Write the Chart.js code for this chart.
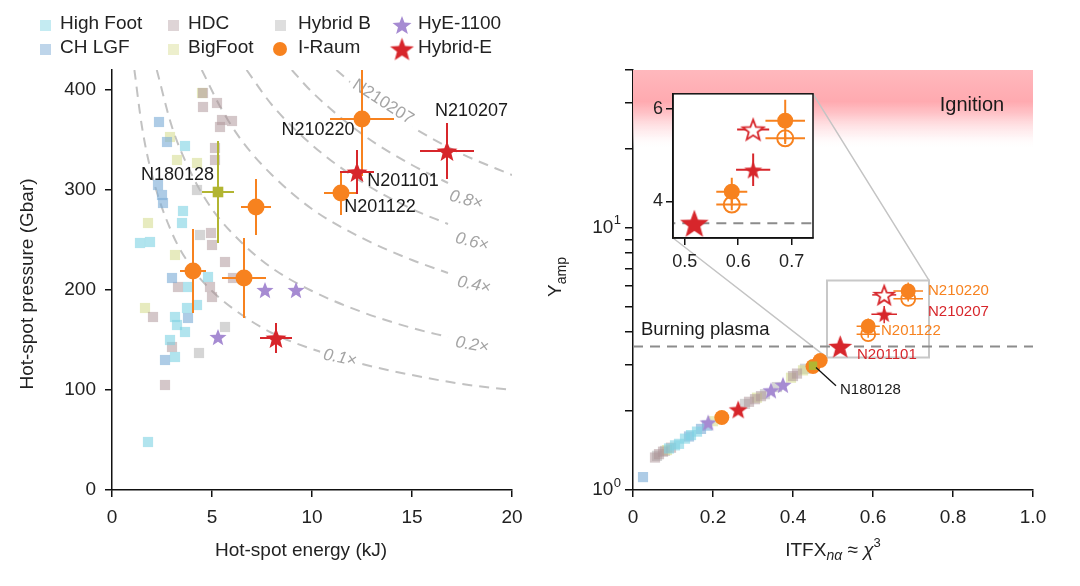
<!DOCTYPE html>
<html>
<head>
<meta charset="utf-8">
<script src="https://cdn.jsdelivr.net/npm/chart.js@4.4.1/dist/chart.umd.min.js"></script>
<style>
  body { margin: 0; background: #fff; font-family: "Liberation Sans", Arial, Helvetica, sans-serif; }
  #wrap { position: relative; width: 1080px; height: 586px; overflow: hidden; }
  #wrap > canvas { position: absolute; }
  .item { position: absolute; font-size: 19px; color: #222; line-height: 22px; white-space: nowrap; }
  .item canvas { position: absolute; }
</style>
</head>
<body>
<div id="wrap">
  <canvas id="left" width="540" height="586" style="left:0;top:0"></canvas>
  <canvas id="right" width="540" height="586" style="left:540px;top:0"></canvas>
  <canvas id="inset" width="200" height="200" style="left:630px;top:80px"></canvas>
  <div id="legend"></div>
</div>
<script>
const FONT = '"Liberation Sans", Arial, Helvetica, sans-serif';

// ---------- left panel: hot-spot energy (kJ) vs pressure (Gbar)
const HIGHFOOT_E = [3.65, 3.5, 3.55, 1.4, 1.9, 3.8, 4.8, 4.25, 3.75, 3.15, 3.25, 3.65, 2.9, 3.15, 1.8];
const HIGHFOOT_P = [344, 267, 279, 247, 248, 203, 213, 185, 182, 173, 165, 158, 150, 133, 48];
const CHLGF_E = [2.35, 2.75, 2.3, 2.5, 2.55, 3.0, 3.8, 2.65];
const CHLGF_P = [368, 348, 305, 295, 287, 212, 172, 130];
const HDC_E = [4.55, 4.55, 5.25, 5.5, 6.0, 5.4, 5.15, 5.15, 4.95, 5.0, 3.3, 4.9, 5.0, 5.65, 6.05, 2.05, 2.65, 3.0];
const HDC_P = [397, 383, 387, 370, 369, 363, 342, 330, 257, 245, 203, 203, 193, 228, 212, 173, 105, 143];
const BIGFOOT_E = [4.5, 2.9, 3.25, 4.25, 1.8, 1.65, 3.15];
const BIGFOOT_P = [397, 353, 330, 327, 267, 182, 235];
const HYBRIDB_E = [4.25, 4.4, 5.65, 4.35];
const HYBRIDB_P = [300, 255, 163, 137];
const HYE_E = [7.65, 9.2, 5.3];
const HYE_P = [200, 200, 153];
const IRAUM_E = [4.05, 6.6, 7.2, 12.5, 11.45];
const IRAUM_P = [219, 212, 283, 371, 297];
const IRAUM_E_ERR = [0.65, 1.1, 0.75, 1.6, 0.85];
const IRAUM_P_ERR = [42, 40, 28, 57, 22];
const HYBRIDE_E = [8.2, 12.25, 16.75];
const HYBRIDE_P = [152, 318, 339];
const HYBRIDE_E_ERR = [0.8, 0.85, 1.35];
const HYBRIDE_P_ERR = [15, 22, 28];
const N180128_E = [5.3];
const N180128_P = [298];
const N180128_E_ERR = [0.8];
const N180128_P_ERR = [51];

// dashed contours (fraction of the burning criterion)
const CURVE_NAMES = ['0.1×', '0.2×', '0.4×', '0.6×', '0.8×', 'N210207'];
const CURVE_E = [
  [1.12, 1.5, 2, 3, 4, 5, 6.5, 8, 10, 12.5, 15, 17.5, 20],
  [2.24, 3, 4, 5, 6.5, 8, 10, 12.5, 15, 16.8],
  [4.49, 5.5, 6.5, 8, 10, 12.5, 15, 16.8],
  [6.73, 8, 10, 12.5, 15, 16.8],
  [8.99, 10, 12.5, 15, 16.8],
  [11.22, 12.5, 14, 15, 17.5, 20]
];
const CURVE_P = [
  [420, 363, 315, 257, 222, 199, 175, 157, 141, 126, 115, 106, 100],
  [420, 363, 315, 281, 247, 222, 199, 178, 162, 153],
  [420, 380, 349, 315, 281, 252, 230, 217],
  [420, 385, 345, 308, 281, 266],
  [420, 398, 356, 325, 307],
  [420, 398, 376, 363, 336, 315]
];
const CURVE_LABEL_E = [11.4, 18.0, 18.1, 18.0, 17.7, 13.55];
const CURVE_LABEL_P = [132, 145, 205, 248, 290, 388];

// ---------- right panel: ITFX vs Y_amp
const R_HIGHFOOT_X = [0.09, 0.105, 0.13, 0.145, 0.16, 0.115];
const R_HIGHFOOT_Y = [1.44, 1.48, 1.57, 1.62, 1.67, 1.5];
const R_CHLGF_X = [0.025, 0.14, 0.17, 0.185];
const R_CHLGF_Y = [1.12, 1.6, 1.71, 1.76];
const R_HDC_X = [0.055, 0.065, 0.075, 0.095, 0.29, 0.305, 0.32, 0.4, 0.41];
const R_HDC_Y = [1.33, 1.37, 1.4, 1.45, 2.17, 2.22, 2.28, 2.72, 2.78];
const R_BIGFOOT_X = [0.085, 0.2, 0.31, 0.395, 0.425];
const R_BIGFOOT_Y = [1.42, 1.83, 2.25, 2.68, 2.86];
const R_HYBRIDB_X = [0.06, 0.08, 0.28, 0.33, 0.36, 0.43];
const R_HYBRIDB_Y = [1.35, 1.41, 2.13, 2.32, 2.47, 2.9];
const R_HYE_X = [0.188, 0.345, 0.375];
const R_HYE_Y = [1.81, 2.4, 2.52];
const R_IRAUM_X = [0.222, 0.45, 0.468, 0.588, 0.688];
const R_IRAUM_Y = [1.89, 2.96, 3.12, 4.21, 5.74];
const R_IRAUM_X_ERR = [0, 0, 0, 0.029, 0.037];
const R_IRAUM_Y_ERR = [0, 0, 0, 0.3, 0.45];
const R_IRAUM_ALT_X = [0.588, 0.688];
const R_IRAUM_ALT_Y = [3.93, 5.36];
const R_IRAUM_ALT_X_ERR = [0.029, 0.037];
const R_IRAUM_ALT_Y_ERR = [0.12, 0.12];
const R_HYBRIDE_X = [0.263, 0.518, 0.628];
const R_HYBRIDE_Y = [2.03, 3.53, 4.68];
const R_HYBRIDE_X_ERR = [0, 0, 0.032];
const R_HYBRIDE_Y_ERR = [0, 0, 0.35];
const R_HYBRIDE_ALT_X = [0.628];
const R_HYBRIDE_ALT_Y = [5.55];
const R_HYBRIDE_ALT_X_ERR = [0.03];
const R_N180128_X = [0.45];
const R_N180128_Y = [2.98];

const BURNING = 3.53;
const IGNITION = [20, 40];
const ZOOM_X = [0.485, 0.74];
const ZOOM_Y = [3.2, 6.3];
const LEFT_X_TICKS = [0, 5, 10, 15, 20];
const LEFT_Y_TICKS = [0, 100, 200, 300, 400];
const RIGHT_X_TICKS = [0, 0.2, 0.4, 0.6, 0.8, 1.0];
const RIGHT_Y_TICKS = [1, 2, 3, 4, 5, 6, 7, 8, 9, 10, 20, 30, 40];
const INSET_X_TICKS = [0.5, 0.6, 0.7];
const INSET_Y_TICKS = [4, 6];

const COL = {
  highFoot: 'rgba(125,210,226,0.6)',
  chlgf: 'rgba(125,172,214,0.62)',
  hdc: 'rgba(172,148,152,0.52)',
  bigfoot: 'rgba(214,220,145,0.58)',
  hybridB: 'rgba(182,182,182,0.58)',
  hye: '#a68bd2',
  iraum: '#f7821f',
  hybridE: '#d7262b',
  olive: '#b2b532'
};

const pts = (xs, ys) => xs.map((x, i) => ({ x, y: ys[i] }));

const starCache = {};
function star(r, fill, stroke) {
  const key = r + '|' + fill + '|' + stroke;
  if (starCache[key]) return starCache[key];
  const s = Math.ceil(2 * r + 4);
  const c = document.createElement('canvas');
  c.width = s; c.height = s;
  const g = c.getContext('2d');
  g.beginPath();
  for (let i = 0; i < 10; i++) {
    const rr = i % 2 ? r * 0.42 : r;
    const a = -Math.PI / 2 + i * Math.PI / 5;
    g.lineTo(s / 2 + rr * Math.cos(a), s / 2 + 0.1 * r + rr * Math.sin(a));
  }
  g.closePath();
  if (fill) { g.fillStyle = fill; g.fill(); }
  if (stroke) { g.strokeStyle = stroke; g.lineWidth = 1.8; g.stroke(); }
  starCache[key] = c;
  return c;
}

function squares(xs, ys, color) {
  return { data: pts(xs, ys), pointStyle: 'rect', pointRadius: 7.2, backgroundColor: color, borderWidth: 0, order: 5 };
}

// error bars drawn just before their dataset's markers
const errorBars = {
  id: 'errorBars',
  beforeDatasetDraw(chart, args) {
    const ds = chart.data.datasets[args.index];
    if (!ds.errX && !ds.errY) return;
    const { ctx, scales: { x, y }, chartArea: a } = chart;
    ctx.save();
    ctx.beginPath();
    ctx.rect(a.left, a.top, a.right - a.left, a.bottom - a.top);
    ctx.clip();
    ctx.strokeStyle = ds.errColor;
    ctx.lineWidth = ds.errWidth || 2;
    ds.data.forEach((p, i) => {
      const ex = ds.errX ? ds.errX[i] : 0;
      const ey = ds.errY ? ds.errY[i] : 0;
      ctx.beginPath();
      if (ex) {
        ctx.moveTo(x.getPixelForValue(p.x - ex), y.getPixelForValue(p.y));
        ctx.lineTo(x.getPixelForValue(p.x + ex), y.getPixelForValue(p.y));
      }
      if (ey) {
        ctx.moveTo(x.getPixelForValue(p.x), y.getPixelForValue(p.y - ey));
        ctx.lineTo(x.getPixelForValue(p.x), y.getPixelForValue(p.y + ey));
      }
      ctx.stroke();
    });
    ctx.restore();
  }
};

function axis(min, max, tickVals, extra) {
  return Object.assign({
    type: 'linear', min, max,
    afterBuildTicks: s => { s.ticks = tickVals.map(v => ({ value: v })); },
    grid: { display: true, drawOnChartArea: false, drawTicks: true, tickLength: 7, color: '#111', lineWidth: 1.5 },
    border: { display: true, color: '#111', width: 1.5 },
    ticks: { font: { size: 19, family: FONT }, color: '#222', autoSkip: false, maxRotation: 0, padding: 9 }
  }, extra);
}

// ---------- legend
const LEGEND = [
  ['High Foot', 'sq', 'rgba(125,210,226,0.45)'],
  ['CH LGF', 'sq', 'rgba(125,172,214,0.5)'],
  ['HDC', 'sq', 'rgba(172,148,152,0.4)'],
  ['BigFoot', 'sq', 'rgba(214,220,145,0.45)'],
  ['Hybrid B', 'sq', 'rgba(182,182,182,0.45)'],
  ['I-Raum', 'circle', COL.iraum],
  ['HyE-1100', 'star', COL.hye],
  ['Hybrid-E', 'bigstar', COL.hybridE]
];
const LEG_MARK_X = [45, 173, 280, 402];
const LEG_TEXT_X = [60, 188, 298, 418];
const LEG_ROW_Y = [23, 47];
const legendEl = document.getElementById('legend');
LEGEND.forEach(([label, kind, color], i) => {
  const col = Math.floor(i / 2), row = i % 2;
  const span = document.createElement('div');
  span.className = 'item';
  span.textContent = label;
  span.style.left = LEG_TEXT_X[col] + 'px';
  span.style.top = (LEG_ROW_Y[row] - 11) + 'px';
  legendEl.appendChild(span);
  const m = document.createElement('canvas');
  m.width = 30; m.height = 30;
  m.style.position = 'absolute';
  m.style.left = (LEG_MARK_X[col] - 15) + 'px';
  m.style.top = (LEG_ROW_Y[row] + 2 - 15) + 'px';
  const g = m.getContext('2d');
  if (kind === 'sq') { g.fillStyle = color; g.fillRect(10, 10, 11, 11); }
  if (kind === 'circle') { g.fillStyle = color; g.beginPath(); g.arc(15, 15, 7, 0, Math.PI * 2); g.fill(); }
  if (kind === 'star' || kind === 'bigstar') {
    const im = star(kind === 'star' ? 10 : 12.5, color);
    g.drawImage(im, 15 - im.width / 2, 15 - im.height / 2);
  }
  legendEl.appendChild(m);
});

// ---------- left chart
const LEFT_LABELS = [
  ['N180128', 3.28, 315], ['N210220', 10.3, 360], ['N210207', 17.98, 379],
  ['N201101', 14.55, 309], ['N201122', 13.4, 283]
];
const CURVE_ANGLE = [12, 10, 12, 14, 15, 33];

const leftDecor = {
  id: 'leftDecor',
  afterDatasetDraw(chart, args) {
    const ds = chart.data.datasets[args.index];
    if (ds.curveIndex === undefined) return;
    const k = ds.curveIndex;
    const { ctx, scales: { x, y } } = chart;
    ctx.save();
    ctx.translate(x.getPixelForValue(CURVE_LABEL_E[k]), y.getPixelForValue(CURVE_LABEL_P[k]));
    ctx.rotate(CURVE_ANGLE[k] * Math.PI / 180);
    ctx.font = (k < 5 ? 'italic ' : '') + '17px ' + FONT;
    const w = ctx.measureText(CURVE_NAMES[k]).width;
    ctx.fillStyle = '#fff';
    ctx.fillRect(-w / 2 - 4, -9, w + 8, 18);
    ctx.fillStyle = '#a4a4a4';
    ctx.textAlign = 'center';
    ctx.textBaseline = 'middle';
    ctx.fillText(CURVE_NAMES[k], 0, 0);
    ctx.restore();
  },
  afterDatasetsDraw(chart) {
    const { ctx, scales: { x, y } } = chart;
    ctx.save();
    ctx.font = '18px ' + FONT;
    ctx.fillStyle = '#1a1a1a';
    ctx.textAlign = 'center';
    ctx.textBaseline = 'middle';
    LEFT_LABELS.forEach(([t, e, p]) => ctx.fillText(t, x.getPixelForValue(e), y.getPixelForValue(p)));
    ctx.restore();
  },
  afterDraw(chart) {
    const { ctx } = chart;
    ctx.save();
    ctx.font = '19px ' + FONT;
    ctx.fillStyle = '#222';
    ctx.textAlign = 'center';
    ctx.textBaseline = 'middle';
    ctx.fillText('Hot-spot energy (kJ)', 301, 551);
    ctx.translate(28, 284);
    ctx.rotate(-Math.PI / 2);
    ctx.fillText('Hot-spot pressure (Gbar)', 0, 0);
    ctx.restore();
  }
};

const leftDatasets = [
  squares(HIGHFOOT_E, HIGHFOOT_P, COL.highFoot),
  squares(CHLGF_E, CHLGF_P, COL.chlgf),
  squares(HDC_E, HDC_P, COL.hdc),
  squares(BIGFOOT_E, BIGFOOT_P, COL.bigfoot),
  squares(HYBRIDB_E, HYBRIDB_P, COL.hybridB),
  { data: pts(HYE_E, HYE_P), pointStyle: star(9, COL.hye), pointRadius: 6, order: 3 },
  { data: pts(N180128_E, N180128_P), pointStyle: 'rect', pointRadius: 7.5, backgroundColor: COL.olive, borderWidth: 0,
    errX: N180128_E_ERR, errY: N180128_P_ERR, errColor: COL.olive, order: 2 },
  { data: pts(IRAUM_E, IRAUM_P), pointStyle: 'circle', pointRadius: 8.5, backgroundColor: COL.iraum, borderWidth: 0,
    errX: IRAUM_E_ERR, errY: IRAUM_P_ERR, errColor: COL.iraum, order: 2 },
  { data: pts(HYBRIDE_E, HYBRIDE_P), pointStyle: star(11, COL.hybridE), pointRadius: 6,
    errX: HYBRIDE_E_ERR, errY: HYBRIDE_P_ERR, errColor: COL.hybridE, order: 1 }
].concat(CURVE_E.map((es, k) => ({
  data: pts(es, CURVE_P[k]), showLine: true, pointRadius: 0, borderColor: '#c2c2c2', borderWidth: 2,
  borderDash: [10, 7], cubicInterpolationMode: 'monotone', order: 10, curveIndex: k
})));

new Chart(document.getElementById('left'), {
  type: 'scatter',
  data: { datasets: leftDatasets },
  options: {
    responsive: false, animation: false, events: [],
    layout: { padding: { top: 70, right: 28, left: 0, bottom: 0 } },
    plugins: { legend: { display: false }, tooltip: { enabled: false } },
    scales: {
      x: axis(0, 20, LEFT_X_TICKS, { afterFit: s => { s.height = 96; } }),
      y: axis(0, 420, LEFT_Y_TICKS, { afterFit: s => { s.width = 112; } })
    }
  },
  plugins: [errorBars, leftDecor]
});

// ---------- inset chart
const insetFrame = {
  id: 'insetFrame',
  beforeDraw(chart) {
    const { ctx, chartArea: a } = chart;
    ctx.save();
    ctx.fillStyle = '#fff';
    ctx.fillRect(a.left, a.top, a.right - a.left, a.bottom - a.top);
    ctx.restore();
  },
  afterDraw(chart) {
    const { ctx, chartArea: a } = chart;
    ctx.save();
    ctx.strokeStyle = '#111';
    ctx.lineWidth = 1.5;
    ctx.strokeRect(a.left, a.top, a.right - a.left, a.bottom - a.top);
    ctx.restore();
  }
};

const insetChart = new Chart(document.getElementById('inset'), {
  type: 'scatter',
  data: { datasets: [
    { data: pts(R_HYBRIDE_X, R_HYBRIDE_Y), pointStyle: [star(9, COL.hybridE), star(15, COL.hybridE), star(9.5, COL.hybridE)],
      pointRadius: 6, errX: R_HYBRIDE_X_ERR, errY: R_HYBRIDE_Y_ERR, errColor: COL.hybridE, order: 1 },
    { data: pts(R_IRAUM_X, R_IRAUM_Y), pointStyle: 'circle', pointRadius: 8, backgroundColor: COL.iraum, borderWidth: 0,
      errX: R_IRAUM_X_ERR, errY: R_IRAUM_Y_ERR, errColor: COL.iraum, order: 2 },
    { data: pts(R_IRAUM_ALT_X, R_IRAUM_ALT_Y), pointStyle: 'circle', pointRadius: 8, backgroundColor: 'rgba(255,255,255,0)',
      borderColor: COL.iraum, borderWidth: 2, errX: R_IRAUM_ALT_X_ERR, errY: R_IRAUM_ALT_Y_ERR, errColor: COL.iraum, order: 3 },
    { data: pts(R_HYBRIDE_ALT_X, R_HYBRIDE_ALT_Y), pointStyle: star(11, '#fff', COL.hybridE), pointRadius: 6,
      errX: R_HYBRIDE_ALT_X_ERR, errColor: COL.hybridE, order: 3 },
    { data: [{ x: 0.4, y: BURNING }, { x: 0.8, y: BURNING }], showLine: true, pointRadius: 0,
      borderColor: '#8c8c8c', borderWidth: 2, borderDash: [10, 7], order: 9 }
  ] },
  options: {
    responsive: false, animation: false, events: [],
    layout: { padding: { top: 12, right: 17, left: 0, bottom: 0 } },
    plugins: { legend: { display: false }, tooltip: { enabled: false } },
    scales: {
      x: axis(0.478, 0.74, INSET_X_TICKS, {
        afterFit: s => { s.height = 42; },
        ticks: { font: { size: 18, family: FONT }, color: '#222', autoSkip: false, maxRotation: 0, padding: 6 }
      }),
      y: axis(3.21, 6.32, INSET_Y_TICKS, {
        afterFit: s => { s.width = 43; },
        ticks: { font: { size: 18, family: FONT }, color: '#222', autoSkip: false, padding: 3 }
      })
    }
  },
  plugins: [insetFrame, errorBars]
});

// ---------- right chart
const RIGHT_LABELS = [
  ['N210220', 0.7375, 5.74, COL.iraum],
  ['N210207', 0.7375, 4.77, COL.hybridE],
  ['N201122', 0.62, 4.03, COL.iraum],
  ['N201101', 0.56, 3.29, COL.hybridE],
  ['N180128', 0.5175, 2.42, '#1a1a1a']
];
const LEADER = [[0.4575, 2.93], [0.5075, 2.5]];

function drawPow(ctx, right, yc, base, exp) {
  ctx.font = '13px ' + FONT;
  const we = ctx.measureText(exp).width;
  ctx.textAlign = 'left';
  ctx.fillText(exp, right - we, yc - 7);
  ctx.font = '19px ' + FONT;
  ctx.textAlign = 'right';
  ctx.fillText(base, right - we - 0.5, yc);
}

const rightDecor = {
  id: 'rightDecor',
  beforeDatasetsDraw(chart) {
    const { ctx, chartArea: a, scales: { x, y } } = chart;
    const top = y.getPixelForValue(IGNITION[1]);
    const bot = y.getPixelForValue(IGNITION[0]);
    const g = ctx.createLinearGradient(0, top, 0, bot);
    g.addColorStop(0, 'rgba(255,184,189,1)');
    g.addColorStop(0.4, 'rgba(255,170,176,1)');
    g.addColorStop(0.55, 'rgba(255,188,193,0.9)');
    g.addColorStop(0.82, 'rgba(255,225,228,0.45)');
    g.addColorStop(1, 'rgba(255,255,255,0)');
    ctx.save();
    ctx.fillStyle = g;
    ctx.fillRect(a.left, top, a.right - a.left, bot - top);
    // connectors from the zoom box to the inset
    const ic = insetChart.chartArea;
    const dx = insetChart.canvas.offsetLeft - chart.canvas.offsetLeft;
    const dy = insetChart.canvas.offsetTop - chart.canvas.offsetTop;
    ctx.strokeStyle = '#c4c4c4';
    ctx.lineWidth = 1.5;
    ctx.beginPath();
    ctx.moveTo(dx + ic.left, dy + ic.bottom);
    ctx.lineTo(x.getPixelForValue(ZOOM_X[0]), y.getPixelForValue(ZOOM_Y[0]));
    ctx.moveTo(dx + ic.right, dy + ic.top);
    ctx.lineTo(x.getPixelForValue(ZOOM_X[1]), y.getPixelForValue(ZOOM_Y[1]));
    ctx.stroke();
    ctx.restore();
  },
  afterDatasetsDraw(chart) {
    const { ctx, scales: { x, y } } = chart;
    ctx.save();
    ctx.textBaseline = 'middle';
    ctx.font = '15px ' + FONT;
    ctx.textAlign = 'left';
    RIGHT_LABELS.forEach(([t, vx, vy, c]) => {
      ctx.fillStyle = c;
      ctx.fillText(t, x.getPixelForValue(vx), y.getPixelForValue(vy));
    });
    ctx.strokeStyle = '#111';
    ctx.lineWidth = 1.3;
    ctx.beginPath();
    ctx.moveTo(x.getPixelForValue(LEADER[0][0]), y.getPixelForValue(LEADER[0][1]));
    ctx.lineTo(x.getPixelForValue(LEADER[1][0]), y.getPixelForValue(LEADER[1][1]));
    ctx.stroke();
    ctx.fillStyle = '#1a1a1a';
    ctx.font = '18.5px ' + FONT;
    ctx.fillText('Burning plasma', x.getPixelForValue(0.02), y.getPixelForValue(4.07));
    ctx.font = '20px ' + FONT;
    ctx.textAlign = 'center';
    ctx.fillText('Ignition', x.getPixelForValue(0.8475), y.getPixelForValue(29.3));
    ctx.restore();
  },
  afterDraw(chart) {
    const { ctx, scales: { y } } = chart;
    ctx.save();
    ctx.fillStyle = '#222';
    ctx.textBaseline = 'middle';
    drawPow(ctx, 81, y.getPixelForValue(1), '10', '0');
    drawPow(ctx, 81, y.getPixelForValue(10), '10', '1');
    // x title: ITFX_nα ≈ χ^3
    const parts = [['ITFX', '19px', 0], ['nα', 'italic 14px', 5], [' ≈ ', '19px', 0], ['χ', 'italic 19px', 0], ['3', '13px', -8]];
    let tw = 0;
    parts.forEach(p => { ctx.font = p[1] + ' ' + FONT; tw += ctx.measureText(p[0]).width; });
    let cx = 293 - tw / 2;
    ctx.textAlign = 'left';
    parts.forEach(p => { ctx.font = p[1] + ' ' + FONT; ctx.fillText(p[0], cx, 551 + p[2]); cx += ctx.measureText(p[0]).width; });
    // y title: Y_amp
    ctx.translate(16, 277);
    ctx.rotate(-Math.PI / 2);
    ctx.font = '19px ' + FONT;
    const wy = ctx.measureText('Y').width;
    ctx.font = '14px ' + FONT;
    const wa = ctx.measureText('amp').width;
    ctx.font = '19px ' + FONT;
    ctx.fillText('Y', -(wy + wa) / 2, 0);
    ctx.font = '14px ' + FONT;
    ctx.fillText('amp', -(wy + wa) / 2 + wy, 6);
    ctx.restore();
  }
};

new Chart(document.getElementById('right'), {
  type: 'scatter',
  data: { datasets: [
    { data: pts(R_HYBRIDE_X, R_HYBRIDE_Y), pointStyle: [star(10, COL.hybridE), star(12.5, COL.hybridE), star(8.5, COL.hybridE)],
      pointRadius: 6, errX: R_HYBRIDE_X_ERR, errY: R_HYBRIDE_Y_ERR, errColor: COL.hybridE, errWidth: 1.5, order: 1 },
    { data: pts(R_HYBRIDE_ALT_X, R_HYBRIDE_ALT_Y), pointStyle: star(10, '#fff', COL.hybridE), pointRadius: 6,
      errX: R_HYBRIDE_ALT_X_ERR, errColor: COL.hybridE, errWidth: 1.5, order: 1 },
    { data: pts(R_N180128_X, R_N180128_Y), pointStyle: 'rect', pointRadius: 6, backgroundColor: COL.olive, borderWidth: 0, order: 1 },
    { data: pts(R_IRAUM_X, R_IRAUM_Y), pointStyle: 'circle', pointRadius: 7.5, backgroundColor: COL.iraum, borderWidth: 0,
      errX: R_IRAUM_X_ERR, errY: R_IRAUM_Y_ERR, errColor: COL.iraum, errWidth: 1.5, order: 2 },
    { data: pts(R_IRAUM_ALT_X, R_IRAUM_ALT_Y), pointStyle: 'circle', pointRadius: 7, backgroundColor: 'rgba(255,255,255,0)',
      borderColor: COL.iraum, borderWidth: 1.8, errX: R_IRAUM_ALT_X_ERR, errY: R_IRAUM_ALT_Y_ERR, errColor: COL.iraum, errWidth: 1.5, order: 2 },
    { data: pts(R_HYE_X, R_HYE_Y), pointStyle: star(9, COL.hye), pointRadius: 6, order: 3 },
    squares(R_HIGHFOOT_X, R_HIGHFOOT_Y, COL.highFoot),
    squares(R_CHLGF_X, R_CHLGF_Y, COL.chlgf),
    squares(R_HDC_X, R_HDC_Y, COL.hdc),
    squares(R_BIGFOOT_X, R_BIGFOOT_Y, COL.bigfoot),
    squares(R_HYBRIDB_X, R_HYBRIDB_Y, COL.hybridB),
    { data: [{ x: 0, y: BURNING }, { x: 1, y: BURNING }], showLine: true, pointRadius: 0,
      borderColor: '#8c8c8c', borderWidth: 2, borderDash: [10, 7], order: 9 },
    { data: [{ x: ZOOM_X[0], y: ZOOM_Y[0] }, { x: ZOOM_X[1], y: ZOOM_Y[0] }, { x: ZOOM_X[1], y: ZOOM_Y[1] },
             { x: ZOOM_X[0], y: ZOOM_Y[1] }, { x: ZOOM_X[0], y: ZOOM_Y[0] }],
      showLine: true, pointRadius: 0, borderColor: '#c8c8c8', borderWidth: 2, order: 9 }
  ] },
  options: {
    responsive: false, animation: false, events: [],
    layout: { padding: { top: 70, right: 47, left: 0, bottom: 0 } },
    plugins: { legend: { display: false }, tooltip: { enabled: false } },
    scales: {
      x: axis(0, 1, RIGHT_X_TICKS, {
        afterFit: s => { s.height = 96; },
        ticks: { font: { size: 19, family: FONT }, color: '#222', autoSkip: false, maxRotation: 0, padding: 9,
                 callback: v => v === 0 ? '0' : v.toFixed(1) }
      }),
      y: axis(1, 40, RIGHT_Y_TICKS, {
        type: 'logarithmic',
        afterFit: s => { s.width = 93; },
        grid: { display: true, drawOnChartArea: false, drawTicks: true, tickLength: 8, color: '#111', lineWidth: 1.5 },
        ticks: { autoSkip: false, callback: () => '' }
      })
    }
  },
  plugins: [errorBars, rightDecor]
});
</script>
</body>
</html>
